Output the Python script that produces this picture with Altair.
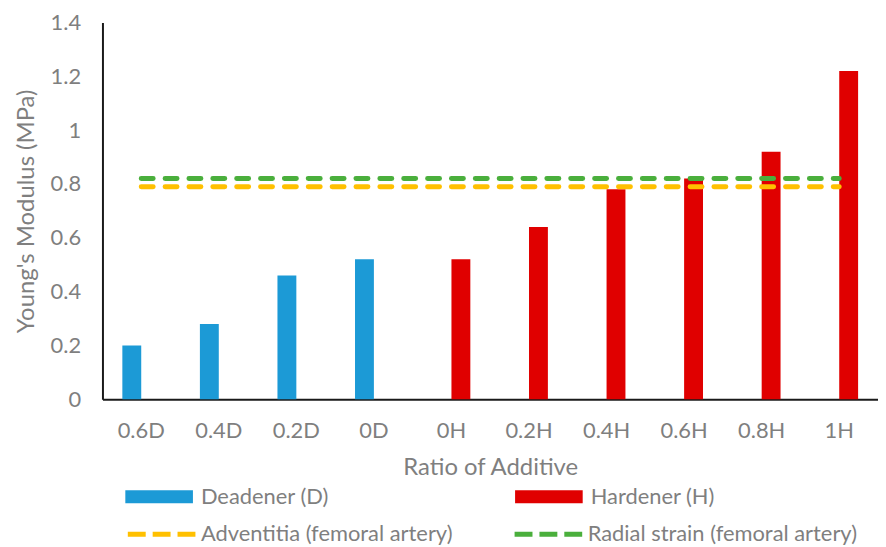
import altair as alt
import pandas as pd

categories = ["0.6D", "0.4D", "0.2D", "0D", "0H", "0.2H", "0.4H", "0.6H", "0.8H", "1H"]
modulus = [0.20, 0.28, 0.46, 0.52, 0.52, 0.64, 0.78, 0.82, 0.92, 1.22]
series = ["Deadener (D)"] * 4 + ["Hardener (H)"] * 6
bar_names = ["Deadener (D)", "Hardener (H)"]
bar_colors = ["#1C9AD6", "#E00000"]

line_names = ["Adventitia (femoral artery)", "Radial strain (femoral artery)"]
line_values = [0.79, 0.82]
line_colors = ["#FFC000", "#4AAF3C"]

y_ticks = [0, 0.2, 0.4, 0.6, 0.8, 1.0, 1.2, 1.4]

bar_df = pd.DataFrame({"category": categories, "modulus": modulus, "series": series})
line_df = pd.DataFrame(
    [{"category": c, "value": v, "line": n} for n, v in zip(line_names, line_values) for c in categories]
)

FONT = "Lato"
GRAY = "#7F7F7F"

x_enc = alt.X(
    "category:N",
    sort=categories,
    scale=alt.Scale(paddingInner=0.513, paddingOuter=0.2565),
    axis=alt.Axis(
        title="Ratio of Additive",
        labelAngle=0,
        ticks=False,
        labelPadding=21,
        titlePadding=15,
    ),
)
y_enc = alt.Y(
    "modulus:Q",
    scale=alt.Scale(domain=[0, 1.4]),
    axis=alt.Axis(
        title="Young's Modulus (MPa)",
        values=y_ticks,
        format="~g",
        grid=False,
        ticks=False,
        labelPadding=22,
        titlePadding=12,
    ),
)

bars = alt.Chart(bar_df).mark_bar().encode(
    x=x_enc,
    xOffset=alt.XOffset("series:N", scale=alt.Scale(domain=bar_names, paddingInner=0, paddingOuter=0)),
    y=y_enc,
    fill=alt.Fill(
        "series:N",
        scale=alt.Scale(domain=bar_names, range=bar_colors),
        legend=alt.Legend(
            title=None,
            orient="none",
            legendX=23,
            legendY=443,
            direction="horizontal",
            columns=2,
            columnPadding=187,
            symbolType="M-1,-0.19H1V0.19H-1Z",
            symbolSize=4624,
            symbolStrokeWidth=0,
            labelOffset=8,
        ),
    ),
)

lines = alt.Chart(line_df).mark_line(strokeDash=[12, 12], strokeWidth=5, strokeCap="round").encode(
    x=alt.X("category:N", sort=categories),
    y=alt.Y("value:Q"),
    stroke=alt.Stroke(
        "line:N",
        scale=alt.Scale(domain=line_names, range=line_colors),
        legend=alt.Legend(
            title=None,
            orient="none",
            legendX=23,
            legendY=478,
            direction="horizontal",
            columns=2,
            columnPadding=51,
            symbolType="stroke",
            symbolSize=4624,
            symbolStrokeWidth=5,
            symbolDash=[18, 7],
            labelOffset=3,
        ),
    ),
)

chart = (
    alt.layer(bars, lines)
    .properties(
        width=780,
        height=379,
        autosize=alt.AutoSizeParams(type="none"),
        padding={"left": 95, "top": 13, "right": 0, "bottom": 147},
    )
    .configure_view(stroke=None)
    .configure_axis(
        labelFont=FONT,
        titleFont=FONT,
        labelFontSize=22,
        titleFontSize=24,
        labelColor=GRAY,
        titleColor=GRAY,
        titleFontWeight="normal",
        domainColor="#1A1A1A",
        domainWidth=2,
    )
    .configure_legend(
        labelFont=FONT,
        labelFontSize=22,
        labelColor=GRAY,
        padding=0,
        labelLimit=400,
    )
)

chart.save("out.html", embed_options={"renderer": "svg", "actions": False})
